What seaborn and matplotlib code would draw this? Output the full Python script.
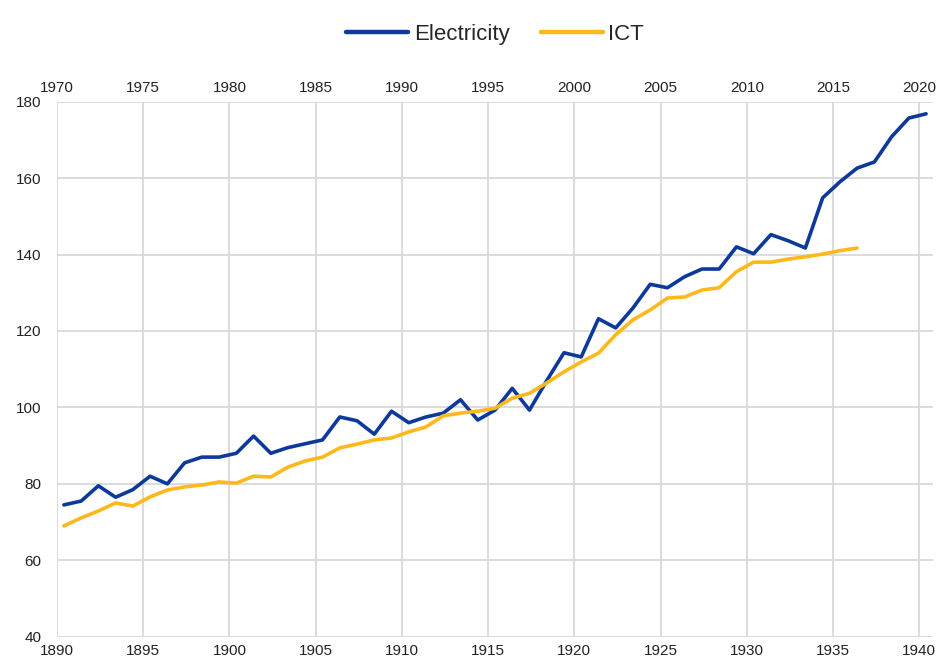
import numpy as np
import pandas as pd
import matplotlib
matplotlib.use("Agg")
import matplotlib.pyplot as plt
import seaborn as sns

# ------------------------------------------------------------------
# Data
# ------------------------------------------------------------------
elec_years = list(range(1890, 1941))
elec_values = [74.5, 75.5, 79.5, 76.5, 78.5, 82.0, 80.0, 85.5, 87.0, 87.0,
               88.0, 92.5, 88.0, 89.5, 90.5, 91.5, 97.5, 96.5, 93.0, 99.0,
               96.0, 97.5, 98.5, 102.0, 96.7, 99.3, 105.0, 99.3, 107.0, 114.3,
               113.2, 123.2, 120.8, 126.0, 132.2, 131.3, 134.2, 136.2, 136.2, 142.0,
               140.2, 145.2, 143.6, 141.7, 154.8, 159.0, 162.6, 164.2, 170.8, 175.7,
               176.8]

ict_years = list(range(1970, 2017))
ict_values = [69.0, 71.1, 72.9, 75.0, 74.2, 76.6, 78.4, 79.2, 79.7, 80.5,
              80.2, 82.0, 81.8, 84.4, 86.0, 87.0, 89.4, 90.4, 91.5, 92.0,
              93.6, 94.9, 97.8, 98.5, 99.0, 99.8, 102.4, 103.7, 106.4, 109.3,
              111.9, 114.2, 119.0, 122.9, 125.5, 128.6, 128.9, 130.7, 131.3, 135.5,
              138.0, 138.0, 138.8, 139.4, 140.1, 141.0, 141.7]

ICT_SHIFT = 80          # ICT years are drawn 80 years earlier (top axis)
year_offset = 0.4       # annual points sit inside the year on the date axis

elec_df = pd.DataFrame({"x": np.array(elec_years) + year_offset, "value": elec_values})
ict_df = pd.DataFrame({"x": np.array(ict_years) - ICT_SHIFT + year_offset, "value": ict_values})

BLUE = "#0d3a9a"
YELLOW = "#ffb81c"

# ------------------------------------------------------------------
# Plot
# ------------------------------------------------------------------
sns.set_style("white")
plt.rcParams["font.family"] = ["Liberation Sans", "DejaVu Sans"]

fig = plt.figure(figsize=(9.45, 6.64), dpi=100)
ax = fig.add_axes([0.0603, 0.041, 0.927, 0.806])

sns.lineplot(data=elec_df, x="x", y="value", color=BLUE, linewidth=2.6,
             label="Electricity", ax=ax)
sns.lineplot(data=ict_df, x="x", y="value", color=YELLOW, linewidth=2.6,
             label="ICT", ax=ax)

ax.set_xlim(1890, 1940.8)
ax.set_ylim(40, 180)
ax.set_xticks(range(1890, 1941, 5))
ax.set_yticks(range(40, 181, 20))
ax.grid(True, color="#d9d9d9", linewidth=1.3)
ax.set_axisbelow(True)
for s in ax.spines.values():
    s.set_visible(False)
ax.set_xlabel("")
ax.set_ylabel("")
ax.tick_params(axis="both", length=0, labelsize=11, colors="#222222")
ax.tick_params(axis="y", pad=11)
ax.tick_params(axis="x", pad=5)

top = ax.secondary_xaxis("top", functions=(lambda x: x + ICT_SHIFT, lambda x: x - ICT_SHIFT))
top.set_xticks(range(1970, 2021, 5))
top.tick_params(length=0, labelsize=11, colors="#222222", pad=5)
for s in top.spines.values():
    s.set_visible(False)

leg = ax.legend(loc="upper center", bbox_to_anchor=(0.5, 1.182), ncol=2, frameon=False,
                fontsize=16, handlelength=2.8, handletextpad=0.25, columnspacing=1.4)
for line in leg.get_lines():
    line.set_linewidth(3.2)

fig.savefig("out.png", dpi=100)
